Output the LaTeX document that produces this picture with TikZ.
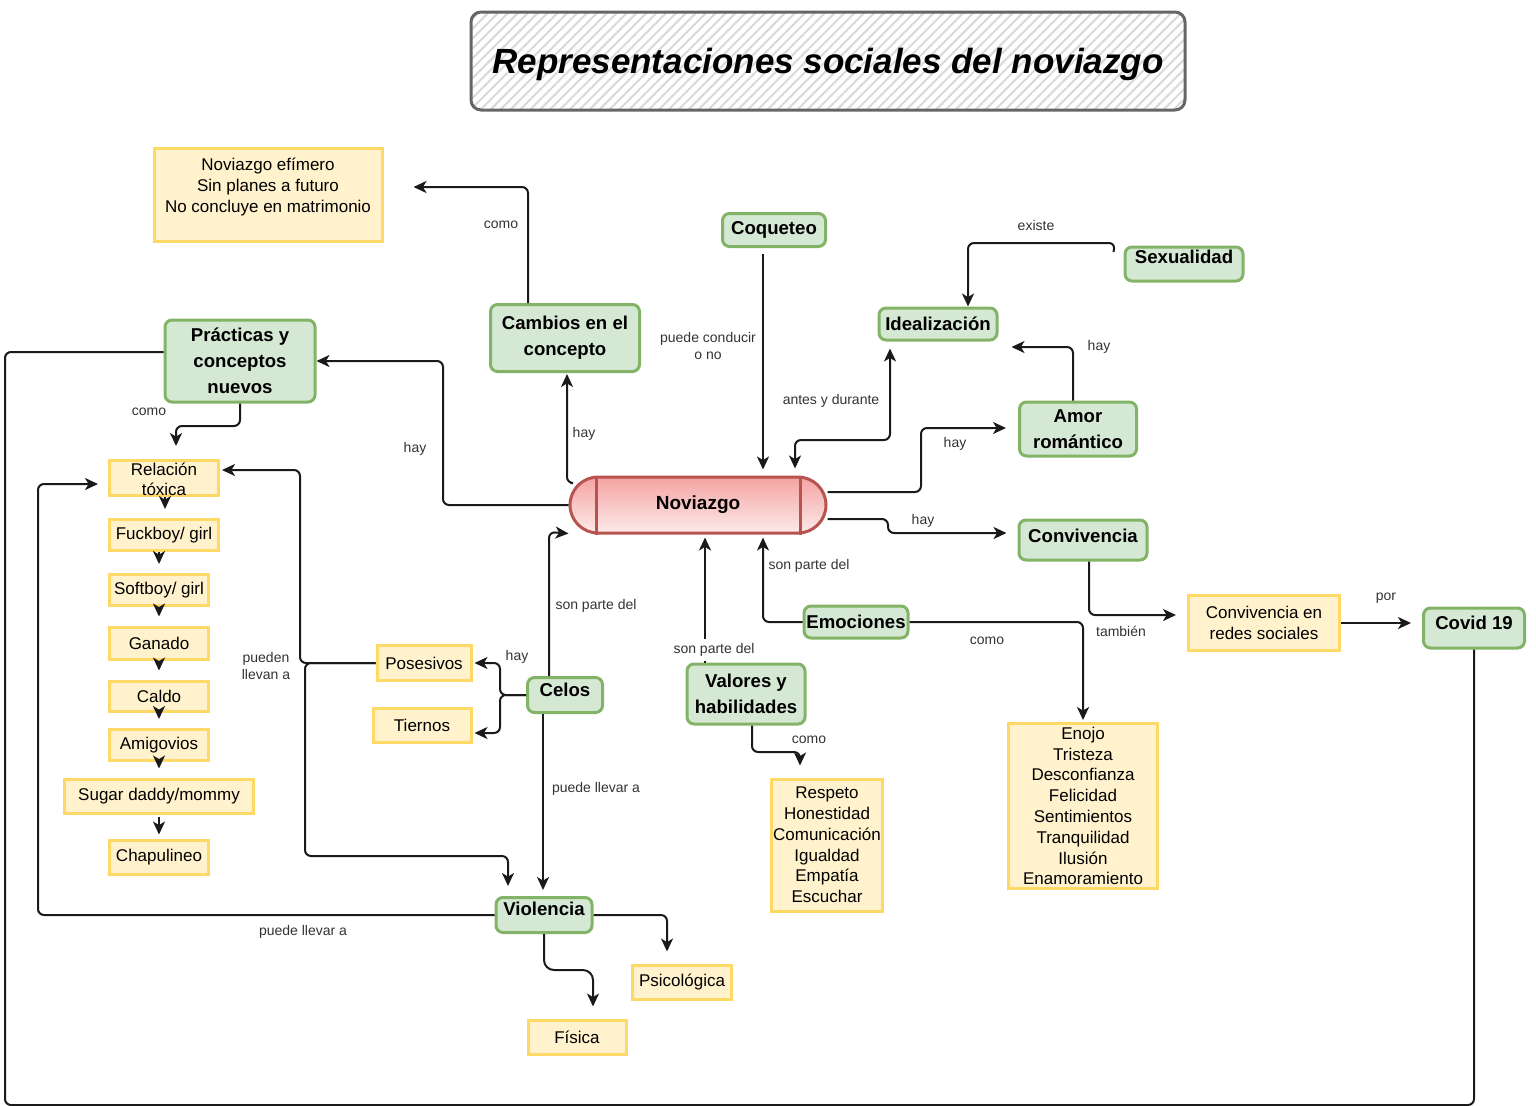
\documentclass[tikz,border=0pt]{standalone}
\usepackage{fontspec}
\setmainfont{Liberation Sans}
\usetikzlibrary{arrows.meta,calc,patterns.meta}
\definecolor{gfill}{HTML}{D5E8D4}
\definecolor{gdraw}{HTML}{82B366}
\definecolor{yfill}{HTML}{FFF2CC}
\definecolor{ydraw}{HTML}{FFD966}
\definecolor{rdraw}{HTML}{B85450}
\definecolor{rtop}{HTML}{F4A4A2}
\definecolor{rbot}{HTML}{FDEAEA}
\definecolor{linec}{HTML}{1A1A1A}
\definecolor{lblc}{HTML}{333333}
\definecolor{tdraw}{HTML}{666666}
\tikzset{
  sz/.style 2 args={minimum width=#1*0.5pt, minimum height=#2*0.5pt},
  box/.style={draw, line width=1.5pt, align=center, inner xsep=1pt, inner ysep=0pt},
  gbox/.style={box, draw=gdraw, fill=gfill, rounded corners=3.5pt,
    font=\fontsize{9.3}{13}\selectfont\bfseries},
  ybox/.style={box, draw=ydraw, fill=yfill, font=\fontsize{8.5}{10.4}\selectfont},
  ytext/.style={align=center, inner sep=0pt, font=\fontsize{8.5}{10}\selectfont},
  lbl/.style={font=\fontsize{7}{8.5}\selectfont, text=lblc, align=center, inner sep=0pt},
  conn/.style={draw=linec, line width=1pt, rounded corners=3pt},
  >={Stealth[length=6.5pt,width=6pt,inset=1.8pt]}
}
\begin{document}
\begin{tikzpicture}[x=0.5pt,y=-0.5pt]
\useasboundingbox (0,0) rectangle (1536,1105);

% title
\node[draw=tdraw, line width=1.5pt, rounded corners=5pt,
  preaction={fill=white},
  pattern={Lines[angle=45,distance=3.5pt,line width=1pt]}, pattern color=gray!30,
  sz={714}{98}, text depth=0pt, font=\fontsize{17.5}{20}\selectfont\bfseries\itshape]
  (title) at (828,61) {Representaciones sociales del noviazgo};

% central node
\node[draw=rdraw, line width=1.5pt, rounded corners=14pt, top color=rtop, bottom color=rbot,
  sz={256}{56}, font=\fontsize{9.5}{11}\selectfont\bfseries] (nov) at (698,505) {Noviazgo};
\draw[rdraw, line width=1.5pt] ($(nov.north west)+(28,0)$) -- ($(nov.south west)+(28,0)$);
\draw[rdraw, line width=1.5pt] ($(nov.north east)+(-27,0)$) -- ($(nov.south east)+(-27,0)$);

% green nodes
\node[gbox, sz={150}{82}] (prac) at (240,361) {Prácticas y\\conceptos\\nuevos};
\node[gbox, sz={149}{67}] (camb) at (565,338) {Cambios en el\\concepto};
\node[gbox, sz={103}{33}] (coq) at (774,230) {Coqueteo};
\node[gbox, sz={118}{32}] (ideal) at (938,324) {Idealización};
\node[gbox, sz={118}{34}, text depth=7pt] (sex) at (1184,264) {Sexualidad};
\node[gbox, sz={117}{54}] (amor) at (1078,429) {Amor\\romántico};
\node[gbox, sz={128}{40}, text depth=4pt] (conv) at (1083,540) {Convivencia};
\node[gbox, sz={101}{40}, text depth=5pt] (covid) at (1474,628) {Covid 19};
\node[gbox, sz={104}{32}] (emo) at (856,622) {Emociones};
\node[gbox, sz={118}{60}] (val) at (746,694) {Valores y\\habilidades};
\node[gbox, sz={75}{35}, text depth=5pt] (celos) at (565,695) {Celos};
\node[gbox, sz={96}{35}, text depth=6pt] (viol) at (544,915) {Violencia};

% yellow nodes
\node[ybox, sz={228}{93}, text depth=10pt] (efim) at (268,195) {Noviazgo efímero\\Sin planes a futuro\\No concluye en matrimonio};
\node[ybox, sz={109}{35}] (rel) at (164,478) {};
\node[ytext] (reltxt) at (164,479) {Relación\\tóxica};
\node[ybox, sz={109}{31}] (fuck) at (164,535) {Fuckboy/ girl};
\node[ybox, sz={99}{31}] (soft) at (159,590) {Softboy/ girl};
\node[ybox, sz={99}{32}] (gan) at (159,643) {Ganado};
\node[ybox, sz={99}{30}] (caldo) at (159,696) {Caldo};
\node[ybox, sz={99}{31}] (amig) at (159,745) {Amigovios};
\node[ybox, sz={189}{34}] (sugar) at (159,796) {Sugar daddy/mommy};
\node[ybox, sz={99}{34}] (chap) at (159,857) {Chapulineo};
\node[ybox, sz={94}{35}] (pos) at (424,663) {Posesivos};
\node[ybox, sz={98}{34}] (tier) at (422,725) {Tiernos};
\node[ybox, sz={99}{34}] (psic) at (682,982) {Psicológica};
\node[ybox, sz={98}{34}] (fis) at (577,1037) {Física};
\node[ybox, sz={108}{132}] (resp) at (827,845) {Respeto\\Honestidad\\Comunicación\\Igualdad\\Empatía\\Escuchar};
\node[ybox, sz={149}{165}] (enojo) at (1083,806) {Enojo\\Tristeza\\Desconfianza\\Felicidad\\Sentimientos\\Tranquilidad\\Ilusión\\Enamoramiento};
\node[ybox, sz={151}{55}] (redes) at (1264,623) {Convivencia en\\redes sociales};

% connectors
\draw[conn,->] (nov.west) -- (443,505) -- (443,361) -- (prac.east);
\draw[conn,->] ($(nov.west)+(2,-22)$) -- (567,483) -- ($(camb.south)+(2,1)$);
\draw[conn,->] ($(camb.north)+(-37,0)$) -- (528,187) -- ($(efim.east)+(30,-8)$);
\draw[conn,->] ($(coq.south)+(-11,6)$) -- ($(nov.north)+(65,-6)$);
\draw[conn,<->] ($(nov.north)+(97,-7)$) -- (795,440) -- (890,440) -- ($(ideal.south)+(-48,7)$);
\draw[conn,->] ($(nov.east)+(0,-13)$) -- (921,492) -- (921,428) -- ($(amor.west)+(-12,-1)$);
\draw[conn,->] ($(amor.north)+(-5,0)$) -- (1073,347) -- ($(ideal.east)+(13,23)$);
\draw[conn,->] ($(sex.west)+(-10,-12)$) -- (1115,243) -- (968,243) -- ($(ideal.north)+(30,0)$);
\draw[conn,->] ($(nov.east)+(0,14)$) -- (888,519) -- (888,533) -- ($(conv.west)+(-11,-7)$);
\draw[conn,->] ($(conv.south)+(6,0)$) -- (1089,615) -- ($(redes.west)+(-11,-8)$);
\draw[conn,->] (redes.east) -- ($(covid.west)+(-11,-5)$);
\draw[conn] (covid.south) -- (1474,1105) -- (5,1105) -- (5,352) -- (prac.west |- 0,352);
\draw[conn,->] (emo.west) -- (763,622) -- ($(nov.south)+(65,3)$);
\draw[conn,->] (emo.east) -- (1083,622) -- ($(enojo.north)+(0,-2)$);
\draw[conn,->] ($(val.north)+(-41,0)$) -- ($(nov.south)+(7,3)$);
\draw[conn,->] ($(val.south)+(6,0)$) -- (752,752) -- (800,752) -- ($(resp.north)+(-27,-12)$);
\draw[conn,->] ($(celos.north)+(-16,0)$) -- (549,532) -- ($(nov.south west)+(0,-1)$);
\draw[conn,->] (celos.west) -- (500,695) -- (500,663) -- ($(pos.east)+(2,0)$);
\draw[conn,->] (celos.west) -- (500,695) -- (500,733) -- ($(tier.east)+(2,8)$);
\draw[conn,->] ($(celos.south)+(-22,0)$) -- ($(viol.north)+(-1,-6)$);
\draw[conn,->] (pos.west) -- (300,663) -- (300,470) -- ($(rel.east)+(2,-8)$);
\draw[conn,->] (pos.west) -- (305,663) -- (305,856) -- (508,856) -- ($(viol.north)+(-36,-10)$);
\draw[conn,->] (viol.west) -- (38,915) -- (38,484) -- ($(rel.west)+(-10,6)$);
\draw[conn,->] (viol.east) -- (667,915) -- ($(psic.north)+(-15,-12)$);
\draw[conn,->,rounded corners=5pt] (viol.south) -- (544,970) -- (593,970) -- ($(fis.north)+(16,-12)$);
\draw[conn,->] (prac.south) -- (240,426) -- (176,426) -- ($(rel.north)+(12,-13)$);
\draw[conn,->] ($(rel.south)+(1,0)$) -- ($(fuck.north)+(1,-9)$);
\draw[conn,->] (fuck.south -| soft.south) -- ($(soft.north)+(0,-9)$);
\draw[conn,->] (soft.south) -- ($(gan.north)+(0,-9)$);
\draw[conn,->] (gan.south) -- ($(caldo.north)+(0,-9)$);
\draw[conn,->] (caldo.south) -- ($(amig.north)+(0,-9)$);
\draw[conn,->] (amig.south) -- ($(sugar.north)+(0,-9)$);
\draw[conn,->] ($(sugar.south)+(0,2)$) -- ($(chap.north)+(0,-4)$);

% connector labels
\node[lbl] (l1) at (415,449) {hay};
\node[lbl] (l2) at (584,434) {hay};
\node[lbl] (l3) at (501,225) {como};
\node[lbl] (l4) at (708,346) {puede conducir\\o no};
\node[lbl] (l5) at (831,401) {antes y durante};
\node[lbl] (l6) at (955,444) {hay};
\node[lbl] (l7) at (1099,347) {hay};
\node[lbl] (l8) at (1036,225) {existe};
\node[lbl] (l9) at (923,521) {hay};
\node[lbl] (l10) at (1121,631) {también};
\node[lbl] (l11) at (1386,598) {por};
\node[lbl] (l12) at (809,566) {son parte del};
\node[lbl] (l13) at (987,641) {como};
\node[lbl, fill=white, inner sep=2pt] (l14) at (714,650) {son parte del};
\node[lbl] (l15) at (809,740) {como};
\node[lbl] (l16) at (596,606) {son parte del};
\node[lbl] (l17) at (517,657) {hay};
\node[lbl] (l18) at (596,789) {puede llevar a};
\node[lbl] (l19) at (266,666) {pueden\\llevan a};
\node[lbl] (l20) at (303,932) {puede llevar a};
\node[lbl] (l21) at (149,412) {como};
\end{tikzpicture}
\end{document}
